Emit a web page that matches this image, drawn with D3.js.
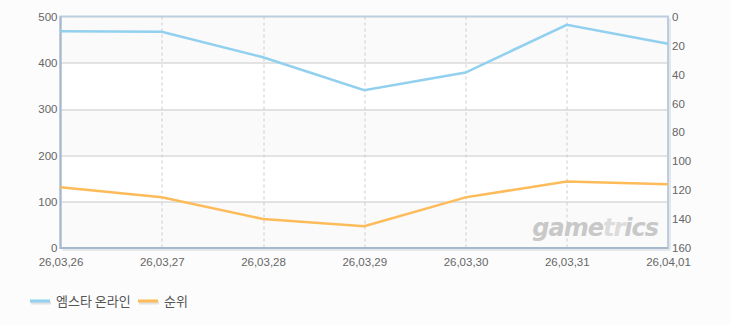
<!DOCTYPE html>
<html>
<head>
<meta charset="utf-8">
<script src="https://cdn.jsdelivr.net/npm/d3@7"></script>
<style>
  body { margin: 0; background: #fcfcfc; }
  svg { display: block; }
  .tick text { font-family: "Liberation Sans", Arial, sans-serif; font-size: 11.5px; fill: #666; }
  .legend text { font-family: "Noto Sans CJK KR", sans-serif; font-size: 13px; fill: #555; }
</style>
</head>
<body>
<svg id="chart"></svg>
<script>
const dates = ['26,03,26', '26,03,27', '26,03,28', '26,03,29', '26,03,30', '26,03,31', '26,04,01'];
const players = [468, 467, 412, 341, 379, 482, 441];
const ranks = [118, 125, 140, 145, 125, 114, 116];
const leftTicks = [0, 100, 200, 300, 400, 500];
const rightTicks = [0, 20, 40, 60, 80, 100, 120, 140, 160];
const seriesNames = ['엠스타 온라인', '순위'];
const colors = ['#92d0ef', '#fdbb5a'];

const width = 730, height = 325;
const margin = {top: 16.5, right: 62, bottom: 77, left: 60.5};
const innerW = width - margin.left - margin.right;
const innerH = height - margin.top - margin.bottom;

const svg = d3.select('#chart')
  .attr('width', width)
  .attr('height', height);

const chart = svg.append('g')
  .attr('transform', `translate(${margin.left},${margin.top})`);

const xScale = d3.scalePoint().domain(dates).range([0, innerW]);
const yLeft = d3.scaleLinear().domain([0, 500]).range([innerH, 0]);
const yRight = d3.scaleLinear().domain([0, 160]).range([0, innerH]);

// alternating bands
chart.append('rect')
  .attr('width', innerW).attr('height', innerH)
  .attr('fill', '#ffffff');
chart.selectAll('.band')
  .data([0, 200, 400])
  .enter().append('rect')
  .attr('class', 'band')
  .attr('x', 0)
  .attr('y', d => yLeft(d + 100))
  .attr('width', innerW)
  .attr('height', d => yLeft(d) - yLeft(d + 100))
  .attr('fill', '#fafafa');

// horizontal grid
chart.selectAll('.hgrid')
  .data(leftTicks.slice(1, -1))
  .enter().append('line')
  .attr('x1', 0).attr('x2', innerW)
  .attr('y1', d => Math.round(yLeft(d)) + 0.5)
  .attr('y2', d => Math.round(yLeft(d)) + 0.5)
  .attr('stroke', '#c8c8c8');

// vertical dashed grid
chart.selectAll('.vgrid')
  .data(dates.slice(1, -1))
  .enter().append('line')
  .attr('x1', d => Math.round(xScale(d)) + 0.5)
  .attr('x2', d => Math.round(xScale(d)) + 0.5)
  .attr('y1', 0).attr('y2', innerH)
  .attr('stroke', '#cccccc')
  .attr('stroke-dasharray', '3,3');

// shadow + frame
chart.append('line')
  .attr('x1', innerW + 2).attr('x2', innerW + 2)
  .attr('y1', 2).attr('y2', innerH + 2)
  .attr('stroke', '#e4e8ec').attr('stroke-width', 2);
chart.append('line')
  .attr('x1', 2).attr('x2', innerW + 2)
  .attr('y1', innerH + 2).attr('y2', innerH + 2)
  .attr('stroke', '#e4e8ec').attr('stroke-width', 2);
chart.append('rect')
  .attr('x', 0).attr('y', 0)
  .attr('width', innerW).attr('height', innerH)
  .attr('fill', 'none')
  .attr('stroke', '#bccddd')
  .attr('stroke-width', 2);
chart.append('path')
  .attr('d', `M0,0V${innerH}H${innerW}`)
  .attr('fill', 'none')
  .attr('stroke', '#a6b8cb')
  .attr('stroke-width', 2);

// watermark
const wm = chart.append('text')
  .attr('x', innerW - 10)
  .attr('y', innerH - 12)
  .attr('text-anchor', 'end')
  .style('font-family', '"DejaVu Sans", sans-serif')
  .style('font-size', '24px')
  .style('font-weight', 'bold')
  .style('font-style', 'italic')
  .style('letter-spacing', '-1px')
  .attr('fill', '#c8c8c8');
wm.append('tspan').text('game');
wm.append('tspan').attr('fill', '#dcdcdc').text('tr');
wm.append('tspan').text('ics');

// lines
const line = (yScale) => d3.line()
  .x((d, i) => xScale(dates[i]))
  .y(d => yScale(d));

chart.append('path')
  .datum(players)
  .attr('fill', 'none')
  .attr('stroke', colors[0])
  .attr('stroke-width', 2.5)
  .attr('d', line(yLeft));

chart.append('path')
  .datum(ranks)
  .attr('fill', 'none')
  .attr('stroke', colors[1])
  .attr('stroke-width', 2.5)
  .attr('d', line(yRight));

// axes
const yAxisL = d3.axisLeft(yLeft).tickValues(leftTicks).tickSize(0).tickPadding(3);
const yAxisR = d3.axisRight(yRight).tickValues(rightTicks).tickSize(0).tickPadding(4);
const xAxis = d3.axisBottom(xScale).tickSize(0).tickPadding(10);

chart.append('g').attr('class', 'axis').call(yAxisL).call(g => g.select('.domain').remove());
chart.append('g').attr('class', 'axis')
  .attr('transform', `translate(${innerW},0)`)
  .call(yAxisR).call(g => g.select('.domain').remove());
chart.append('g').attr('class', 'axis')
  .attr('transform', `translate(0,${innerH})`)
  .call(xAxis).call(g => g.select('.domain').remove());

// legend
const legend = svg.append('g').attr('class', 'legend')
  .attr('transform', 'translate(30,301)');
const offsets = [0, 108];
seriesNames.forEach((name, i) => {
  const g = legend.append('g').attr('transform', `translate(${offsets[i]},0)`);
  g.append('line')
    .attr('x1', 1).attr('x2', 21).attr('y1', 2).attr('y2', 2)
    .attr('stroke', '#e2e2e2').attr('stroke-width', 3);
  g.append('line')
    .attr('x1', 0).attr('x2', 20).attr('y1', 0).attr('y2', 0)
    .attr('stroke', colors[i]).attr('stroke-width', 3);
  g.append('text')
    .attr('x', 26).attr('y', 0)
    .attr('dy', '0.35em')
    .text(name);
});
</script>
</body>
</html>
